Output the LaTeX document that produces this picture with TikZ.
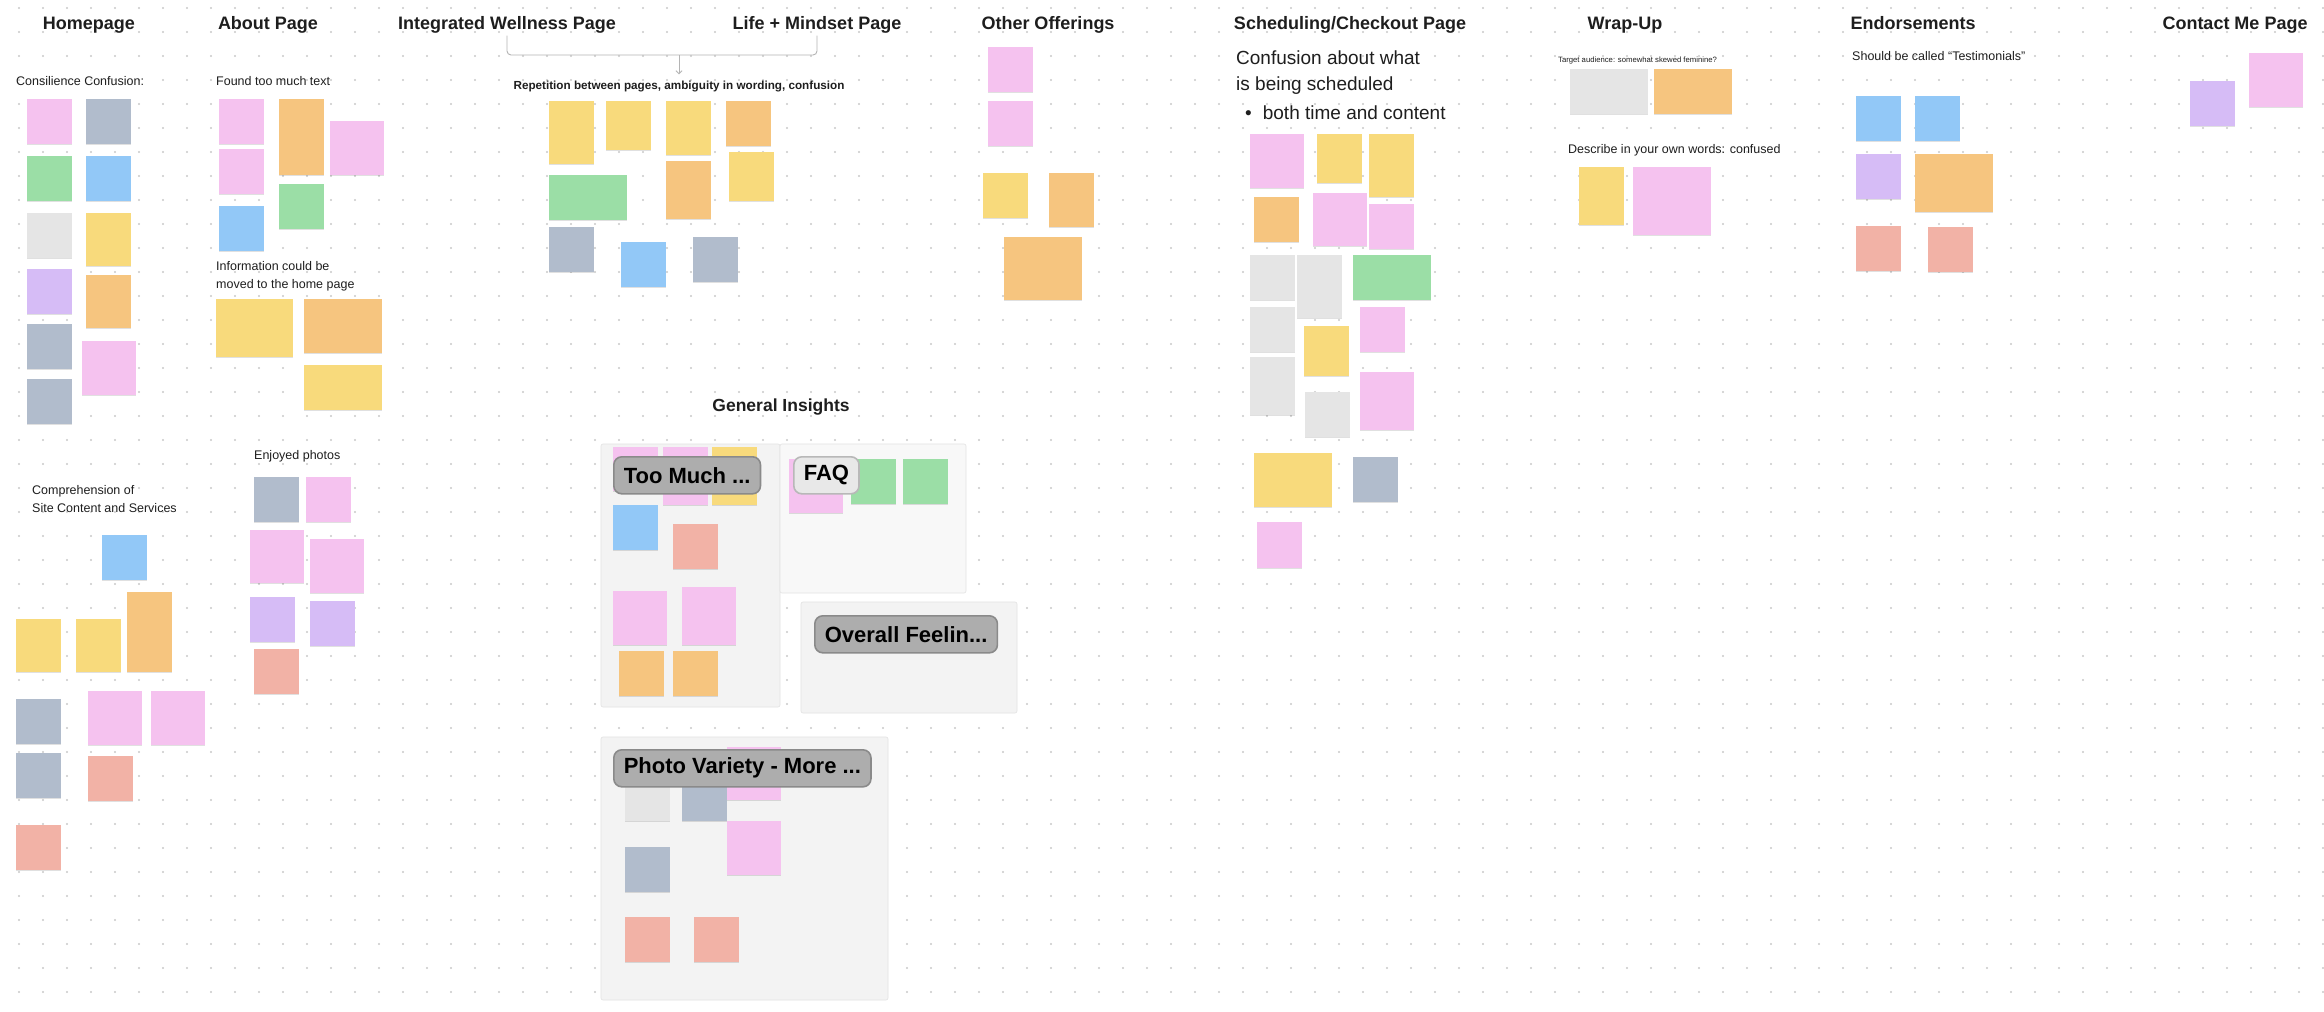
\documentclass[tikz,border=0pt]{standalone}
\usepackage{fontspec}
\setmainfont{Liberation Sans}
\usepackage{tikz}
\usetikzlibrary{arrows.meta,shadows}
\definecolor{ink}{HTML}{1E1E1E}
\definecolor{dotgray}{HTML}{C9C9C9}
\definecolor{linegray}{HTML}{B4B4B4}
\definecolor{framebg}{HTML}{F3F3F3}
\definecolor{framebglight}{HTML}{F8F8F8}
\definecolor{frameline}{HTML}{E2E2E2}
\definecolor{taggray}{HTML}{ADADAD}
\definecolor{tagline}{HTML}{8A8A8A}
\definecolor{taglight}{HTML}{E8E8E8}
\definecolor{taglightline}{HTML}{B8B8B8}
\definecolor{notepink}{HTML}{F5C2EF}
\definecolor{noteyellow}{HTML}{F8DA7C}
\definecolor{noteorange}{HTML}{F6C57F}
\definecolor{notegreen}{HTML}{9BDEA6}
\definecolor{noteblue}{HTML}{92C8F7}
\definecolor{noteslate}{HTML}{B1BCCC}
\definecolor{notegray}{HTML}{E5E5E5}
\definecolor{notepurple}{HTML}{D6BCF6}
\definecolor{notesalmon}{HTML}{F2B2A6}
\tikzset{
  boardhead/.style={anchor=base,inner sep=0pt,text=ink,font=\fontsize{18}{22}\selectfont\bfseries},
  subhead/.style={anchor=base west,inner sep=0pt,text=ink,font=\fontsize{12.5}{15}\selectfont},
  bighead/.style={anchor=base west,inner sep=0pt,text=ink,font=\fontsize{19}{27}\selectfont},
  smallhead/.style={anchor=base west,inner sep=0pt,text=ink,font=\fontsize{7.7}{9}\selectfont},
  stickybox/.style={anchor=north west,inner sep=0pt,minimum width=45pt,minimum height=45pt,
    drop shadow={shadow xshift=0pt,shadow yshift=-1pt,fill=black,opacity=0.12}},
  pinknote/.style={stickybox,fill=notepink},
  yellownote/.style={stickybox,fill=noteyellow},
  orangenote/.style={stickybox,fill=noteorange},
  greennote/.style={stickybox,fill=notegreen},
  bluenote/.style={stickybox,fill=noteblue},
  slatenote/.style={stickybox,fill=noteslate},
  graynote/.style={stickybox,fill=notegray},
  purplenote/.style={stickybox,fill=notepurple},
  salmonnote/.style={stickybox,fill=notesalmon},
  framebox/.style={fill=framebg,draw=frameline,line width=0.6pt,rounded corners=2pt},
  tagbox/.style={anchor=north west,rounded corners=8pt,fill=taggray,draw=tagline,line width=1.6pt,
    inner xsep=10pt,minimum height=37pt,text=black,font=\fontsize{22}{26}\selectfont\bfseries},
  taglightbox/.style={tagbox,fill=taglight,draw=taglightline},
  bracketline/.style={draw=linegray,line width=0.9pt,rounded corners=4pt},
}

\begin{document}
\begin{tikzpicture}[x=1pt,y=-1pt]
  \fill[white] (0,0) rectangle (2324,1012);
  \useasboundingbox (0,0) rectangle (2324,1012);
  % dot grid of the board
  \foreach \i in {0,...,96}
    \foreach \j in {0,...,41}
      \fill[dotgray] (19+24*\i,8+24*\j) circle (1.1);

  % column headings
  \node[boardhead] (home)    at (89,29.5)   {Homepage};
  \node[boardhead] (about)   at (268,29.5)  {About Page};
  \node[boardhead] (iwp)     at (507,29.5)  {Integrated Wellness Page};
  \node[boardhead] (lmp)     at (817,29.5)  {Life + Mindset Page};
  \node[boardhead] (other)   at (1048,29.5) {Other Offerings};
  \node[boardhead] (sched)   at (1350,29.5) {Scheduling/Checkout Page};
  \node[boardhead] (wrap)    at (1625,29.5) {Wrap-Up};
  \node[boardhead] (endo)    at (1913,29.5) {Endorsements};
  \node[boardhead] (contact) at (2235,29.5) {Contact Me Page};

  % Homepage
  \node[subhead] (consil) at (16,85) {Consilience Confusion:};
  \node[pinknote]   (h1)  at (27,99)  {};
  \node[slatenote]  (h2)  at (86,99)  {};
  \node[greennote]  (h3)  at (27,156) {};
  \node[bluenote]   (h4)  at (86,156) {};
  \node[graynote]   (h5)  at (27,213) {};
  \node[yellownote, minimum height=53pt] (h6) at (86,213) {};
  \node[purplenote] (h7)  at (27,269) {};
  \node[orangenote, minimum height=53pt] (h8) at (86,275) {};
  \node[slatenote]  (h9)  at (27,324) {};
  \node[pinknote, minimum width=54pt, minimum height=54pt] (h10) at (82,341) {};
  \node[slatenote]  (h11) at (27,379) {};

  \node[subhead] (comp1) at (32,494.5) {Comprehension of};
  \node[subhead] (comp2) at (32,512.5) {Site Content and Services};
  \node[bluenote]   (c1) at (102,535) {};
  \node[orangenote, minimum height=80pt] (c2) at (127,592) {};
  \node[yellownote, minimum height=53pt] (c3) at (16,619) {};
  \node[yellownote, minimum height=53pt] (c4) at (76,619) {};
  \node[slatenote]  (c5) at (16,699) {};
  \node[pinknote, minimum width=54pt, minimum height=54pt] (c6) at (88,691) {};
  \node[pinknote, minimum width=54pt, minimum height=54pt] (c7) at (151,691) {};
  \node[slatenote]  (c8) at (16,753) {};
  \node[salmonnote] (c9) at (88,756) {};
  \node[salmonnote] (c10) at (16,825) {};

  % About Page
  \node[subhead] (toomuch) at (216,85) {Found too much text};
  \node[pinknote]   (a1) at (219,99)  {};
  \node[orangenote, minimum height=76pt] (a2) at (279,99) {};
  \node[pinknote, minimum width=54pt, minimum height=54pt] (a3) at (330,121) {};
  \node[pinknote]   (a4) at (219,149) {};
  \node[greennote]  (a5) at (279,184) {};
  \node[bluenote]   (a6) at (219,206) {};
  \node[subhead] (info1) at (216,270.5) {Information could be};
  \node[subhead] (info2) at (216,288.5) {moved to the home page};
  \node[yellownote, minimum width=77pt, minimum height=58pt] (a7) at (216,299) {};
  \node[orangenote, minimum width=78pt, minimum height=54pt] (a8) at (304,299) {};
  \node[yellownote, minimum width=78pt] (a9) at (304,365) {};
  \node[subhead] (photos) at (254,459.5) {Enjoyed photos};
  \node[slatenote]  (e1) at (254,477) {};
  \node[pinknote]   (e2) at (306,477) {};
  \node[pinknote, minimum width=54pt, minimum height=53pt] (e3) at (250,530) {};
  \node[pinknote, minimum width=54pt, minimum height=54pt] (e4) at (310,539) {};
  \node[purplenote] (e5) at (250,597) {};
  \node[purplenote] (e6) at (310,601) {};
  \node[salmonnote] (e7) at (254,649) {};

  % Integrated Wellness + Life / Mindset
  \node[anchor=base,inner sep=0pt,text=ink,font=\fontsize{11.7}{14}\selectfont\bfseries] (rep) at (679,89)
    {Repetition between pages, ambiguity in wording, confusion};
  \coordinate (brk) at (679,55);
  \draw[bracketline] ([yshift=-2pt]iwp.south) |- (brk) -| ([yshift=-2pt]lmp.south);
  \draw[bracketline,shorten >=6pt,-{Straight Barb[length=3pt,width=6pt]}] (brk) -- (rep.north);
  \node[yellownote, minimum height=63pt] (w1) at (549,101) {};
  \node[yellownote, minimum height=49pt] (w2) at (606,101) {};
  \node[yellownote, minimum height=54pt] (w3) at (666,101) {};
  \node[orangenote] (w4) at (726,101) {};
  \node[greennote, minimum width=78pt] (w5) at (549,175) {};
  \node[orangenote, minimum height=58pt] (w6) at (666,161) {};
  \node[yellownote, minimum height=49pt] (w7) at (729,152) {};
  \node[slatenote]  (w8) at (549,227) {};
  \node[bluenote]   (w9) at (621,242) {};
  \node[slatenote]  (w10) at (693,237) {};

  % Other Offerings
  \node[pinknote]   (o1) at (988,47)  {};
  \node[pinknote]   (o2) at (988,101) {};
  \node[yellownote] (o3) at (983,173) {};
  \node[orangenote, minimum height=54pt] (o4) at (1049,173) {};
  \node[orangenote, minimum width=78pt, minimum height=63pt] (o5) at (1004,237) {};

  % Scheduling/Checkout
  \node[bighead] (conf1) at (1236,64.8)  {Confusion about what};
  \node[bighead] (conf2) at (1236,90.8)  {is being scheduled};
  \node[bighead] (conf3) at (1245,119.8) {\textbullet\hspace{11pt}both time and content};
  \node[pinknote, minimum width=54pt, minimum height=54pt] (s1) at (1250,134) {};
  \node[yellownote, minimum height=49pt] (s2) at (1317,134) {};
  \node[yellownote, minimum height=63pt] (s3) at (1369,134) {};
  \node[orangenote] (s4) at (1254,197) {};
  \node[pinknote, minimum width=54pt, minimum height=53pt] (s5) at (1313,193) {};
  \node[pinknote]   (s6) at (1369,204) {};
  \node[graynote]   (s7) at (1250,255) {};
  \node[graynote, minimum height=63pt] (s8) at (1297,255) {};
  \node[greennote, minimum width=78pt] (s9) at (1353,255) {};
  \node[graynote]   (s10) at (1250,307) {};
  \node[pinknote]   (s11) at (1360,307) {};
  \node[yellownote, minimum height=50pt] (s12) at (1304,326) {};
  \node[graynote, minimum height=58pt] (s13) at (1250,357) {};
  \node[pinknote, minimum width=54pt, minimum height=58pt] (s14) at (1360,372) {};
  \node[graynote]   (s15) at (1305,392) {};
  \node[yellownote, minimum width=78pt, minimum height=54pt] (s16) at (1254,453) {};
  \node[slatenote]  (s17) at (1353,457) {};
  \node[pinknote, minimum height=46pt] (s18) at (1257,522) {};

  % Wrap-Up
  \node[smallhead] (target) at (1558,62.8) {Target audience: somewhat skewed feminine?};
  \node[graynote, minimum width=78pt] (u1) at (1570,69) {};
  \node[orangenote, minimum width=78pt] (u2) at (1654,69) {};
  \node[subhead] (describe) at (1568,153.8) {Describe in your own words: confused};
  \node[yellownote, minimum height=58pt] (u3) at (1579,167) {};
  \node[pinknote, minimum width=78pt, minimum height=68pt] (u4) at (1633,167) {};

  % Endorsements
  \node[subhead] (testi) at (1852,60.5) {Should be called “Testimonials”};
  \node[bluenote]   (n1) at (1856,96)  {};
  \node[bluenote]   (n2) at (1915,96)  {};
  \node[purplenote] (n3) at (1856,154) {};
  \node[orangenote, minimum width=78pt, minimum height=58pt] (n4) at (1915,154) {};
  \node[salmonnote] (n5) at (1856,226) {};
  \node[salmonnote] (n6) at (1928,227) {};

  % Contact Me Page
  \node[purplenote] (m1) at (2190,81) {};
  \node[pinknote, minimum width=54pt, minimum height=54pt] (m2) at (2249,53) {};

  % General Insights sections
  \node[boardhead, font=\fontsize{17.5}{21}\selectfont\bfseries] (insights) at (781,411) {General Insights};
  \draw[framebox] (601,444) rectangle (780,707);
  \draw[framebox, fill=framebglight] (780,444) rectangle (966,593);
  \draw[framebox] (801,602) rectangle (1017,713);
  \draw[framebox] (601,737) rectangle (888,1000);

  \node[pinknote, minimum height=44pt] (g1) at (613,447) {};
  \node[pinknote, minimum height=58pt] (g2) at (663,447) {};
  \node[yellownote, minimum height=58pt] (g3) at (712,447) {};
  \node[bluenote]   (g4) at (613,505) {};
  \node[salmonnote] (g5) at (673,524) {};
  \node[pinknote, minimum width=54pt, minimum height=54pt] (g6) at (613,591) {};
  \node[pinknote, minimum width=54pt, minimum height=58pt] (g7) at (682,587) {};
  \node[orangenote] (g8) at (619,651) {};
  \node[orangenote] (g9) at (673,651) {};

  \node[pinknote, minimum width=54pt, minimum height=54pt] (f1) at (789,459) {};
  \node[greennote]  (f2) at (851,459) {};
  \node[greennote]  (f3) at (903,459) {};

  \node[graynote, minimum height=44pt]  (p1) at (625,777) {};
  \node[slatenote, minimum height=44pt] (p2) at (682,777) {};
  \node[pinknote, minimum width=54pt, minimum height=53pt] (p3) at (727,747) {};
  \node[pinknote, minimum width=54pt, minimum height=54pt] (p4) at (727,821) {};
  \node[slatenote]  (p5) at (625,847) {};
  \node[salmonnote] (p6) at (625,917) {};
  \node[salmonnote] (p7) at (694,917) {};

  \node[tagbox]      (tagmuch)  at (613,456) {Too Much ...};
  \node[taglightbox] (tagfaq)   at (793,456) {FAQ};
  \node[tagbox]      (tagfeel)  at (814,615) {Overall Feelin...};
  \node[tagbox]      (tagphoto) at (613,749) {Photo Variety - More ...};
\end{tikzpicture}
\end{document}
